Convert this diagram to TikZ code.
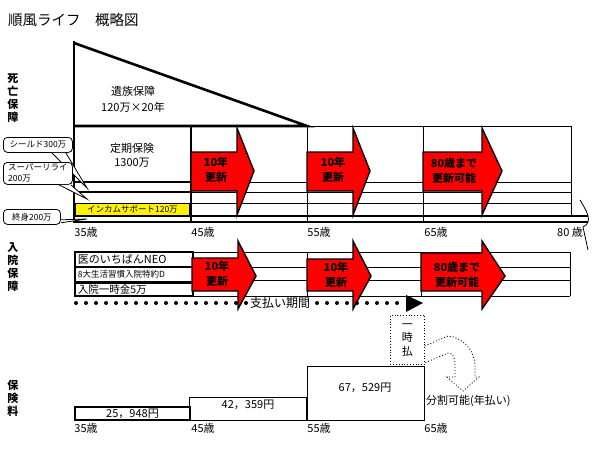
\documentclass[tikz,border=0pt]{standalone}
\usepackage{fontspec}
\setmainfont{Noto Sans CJK JP}
\usetikzlibrary{calc}

\begin{document}
\begin{tikzpicture}[x=1pt, y=-1pt,
  txt/.style={font=\fontsize{11}{14}\selectfont, inner sep=0pt},
  smalltxt/.style={font=\fontsize{8.5}{10}\selectfont, inner sep=0pt},
  sidelbl/.style={font=\bfseries\fontsize{11}{13}\selectfont, align=center, inner sep=0pt},
  renewal/.style={fill=red, draw=black, line width=1.4pt, line join=miter},
  renewtxt/.style={font=\bfseries\fontsize{11}{14.5}\selectfont, align=center, inner sep=0pt},
  heavy/.style={line width=2.6pt},
  grid/.style={line width=0.8pt},
  callout/.style={draw, fill=white, rounded corners=4pt, line width=0.8pt, font=\fontsize{8.5}{11}\selectfont, align=left, inner sep=2pt, anchor=north west},
  planbox/.style={draw, line width=1.8pt, anchor=north west, minimum height=15pt, text width=112pt, inner xsep=3pt, inner ysep=0pt, align=left},
  paydot/.style={fill=black},
]
\useasboundingbox (0,0) rectangle (595,463);
% title
\node[font=\fontsize{14.5}{16}\selectfont, anchor=west, inner sep=0pt] (title) at (8,20) {順風ライフ　概略図};
% side labels
\node[sidelbl] (death) at (13,98) {死\\亡\\保\\障};
\node[sidelbl] (hosp) at (13,267) {入\\院\\保\\障};
\node[sidelbl] (premium) at (13,398) {保\\険\\料};

% death cover grid
\draw[grid] (307,126) -- (571,126);
\draw[grid] (191,182) -- (571,182) (191,192) -- (571,192) (191,203) -- (571,203);
\draw[grid] (307,126) -- (307,222) (423,126) -- (423,222) (571,126) -- (571,216);
\draw[heavy, line join=miter] (74,43) -- (307,126) -- (74,126);
\draw[heavy] (74,41) -- (74,223);
\draw[heavy] (74,182) -- (191,182) (74,192) -- (191,192) (191,126) -- (191,222);
\draw[line width=2pt] (74,216) -- (588,216) (74,222) -- (588,222);
\node[txt, align=center, font=\fontsize{11}{16}\selectfont] (survivor) at (133,99) {遺族保障\\120万×20年};
\node[txt, align=center] (term) at (132,155) {定期保険\\1300万};
\node[draw, fill=yellow, line width=0.8pt, anchor=north west, minimum width=114pt, minimum height=12pt, inner sep=0pt, font=\fontsize{8.5}{10}\selectfont] (income) at (75,203) {インカムサポート120万};

% renewal arrows (death)
\foreach \xa/\xh/\xt in {191/237/254, 307/353/370, 423/482/502}
  \draw[renewal] (\xa,152) -- (\xh,152) -- (\xh,128) -- (\xt,171) -- (\xh,215) -- (\xh,191) -- (\xa,191) -- cycle;
\node[renewtxt] (dren1) at (216,170) {10年\\更新};
\node[renewtxt] (dren2) at (333,170) {10年\\更新};
\node[renewtxt] (dren3) at (454,171) {80歳まで\\更新可能};

% ages
\foreach \x/\a in {86/35歳, 203/45歳, 319/55歳, 436/65歳}
  \node[txt] (age\x) at (\x,232) {\a};
\node[txt] (age80) at (570,232) {80 歳};
\draw[grid] (580,200) .. controls (586,210) and (594,222) .. (583,227) -- (588,250);

% callouts
\node[callout, minimum width=69pt, minimum height=15pt] (shield) at (3,137) {シールド300万};
\coordinate (shieldtip) at (87,188);
\filldraw[grid, fill=white] ([xshift=-21pt]shield.south east) -- (shieldtip) -- ([xshift=-7pt]shield.south east);
\node[callout, minimum width=69pt, minimum height=22pt, inner sep=1.5pt] (super) at (3,162) {スーパーリライ\\200万};
\coordinate (supertip) at (87,199);
\filldraw[grid, fill=white] ([xshift=-14pt]super.south east) -- (supertip) -- ([xshift=-2pt]super.south east);
\node[callout, minimum width=57pt, minimum height=15pt] (whole) at (3,209) {終身200万};
\coordinate (wholetip) at (87,219);
\filldraw[grid, fill=white] ([yshift=5pt]whole.south east) -- (wholetip) -- ([yshift=2pt]whole.south east);

% hospital cover
\draw[grid] (192,252) -- (570,252) (192,267) -- (570,267) (192,280) -- (570,280) (192,296) -- (570,296);
\draw[grid] (307,252) -- (307,296) (421,252) -- (421,296) (570,252) -- (570,296);
\node[planbox, font=\fontsize{11}{13}\selectfont] (neo) at (74,251) {医のいちばんNEO};
\node[planbox, font=\fontsize{8.5}{10}\selectfont] (rider) at (74,266) {8大生活習慣入院特約D};
\node[planbox, minimum height=13pt, font=\fontsize{10.5}{12}\selectfont] (lump) at (74,282) {入院一時金5万};
\foreach \xa/\xh/\xt/\yb in {192/238/256/258, 307/353/371/259, 421/482/505/253}
  \draw[renewal] (\xa,\yb) -- (\xh,\yb) -- (\xh,241) -- (\xt,276) -- (\xh,309) -- (\xh,291) -- (\xa,291) -- cycle;
\node[renewtxt] (hren1) at (217,274) {10年\\更新};
\node[renewtxt] (hren2) at (336,275) {10年\\更新};
\node[renewtxt] (hren3) at (457,275) {80歳まで\\更新可能};

% payment period
\foreach \x in {76,86,...,246}
  \fill[paydot] (\x,303) circle[radius=2pt];
\node[txt, font=\fontsize{12}{14}\selectfont] (period) at (280,303) {支払い期間};
\foreach \x in {317,327,...,397}
  \fill[paydot] (\x,303) circle[radius=2pt];
\fill (406,295) -- (423,303) -- (406,312) -- cycle;

% lump payment
\node[draw, dotted, line width=0.8pt, minimum width=34pt, minimum height=49pt, inner sep=0pt, align=center, font=\fontsize{11}{13.5}\selectfont, anchor=north west] (once) at (390,315) {一\\時\\払};
\draw[grid, dash pattern=on 1pt off 2pt] ([yshift=-6pt]once.east) -- (448,336) .. controls (462,337) and (475,350) .. (475,366) -- (475,377) -- (479,377) -- (463,391) -- (447,377) -- (455,377) -- (455,364) .. controls (455,358) and (453,353) .. (448,353) -- ([yshift=-23pt]once.east);

% premiums
\node[draw, line width=2pt, anchor=north west, minimum width=115pt, minimum height=13pt, inner sep=0pt, font=\fontsize{11}{13}\selectfont] (p35) at (74,406) {25，948円};
\draw[grid] (189,397) rectangle (307,420);
\node[txt] (p45) at (248,405) {42，359円};
\draw[grid] (307,366) rectangle (424,420);
\draw[line width=1.8pt] (307,397) -- (307,421);
\node[txt] (p55) at (365,388) {67，529円};
\node[txt, anchor=west] (split) at (426,401) {分割可能(年払い)};
\foreach \x/\a in {86/35歳, 203/45歳, 319/55歳, 436/65歳}
  \node[txt] (pay\x) at (\x,428) {\a};
\end{tikzpicture}
\end{document}
